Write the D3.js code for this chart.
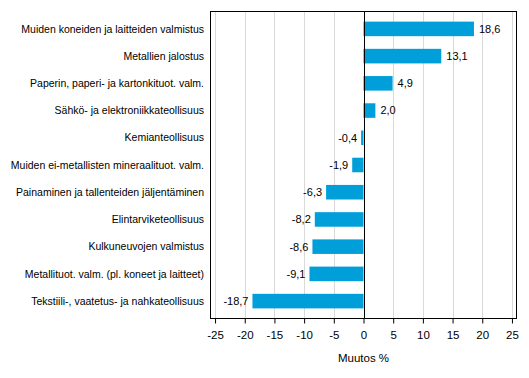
<!DOCTYPE html>
<html><head><meta charset="utf-8">
<script src="https://cdn.jsdelivr.net/npm/d3@7"></script>
<style>
body{margin:0;background:#fff;}
text{font-family:"Liberation Sans",Arial,sans-serif;font-size:11px;fill:#000;}
</style></head>
<body>
<svg id="c" width="529" height="378"></svg>
<script>
const categories = [
  "Muiden koneiden ja laitteiden valmistus",
  "Metallien jalostus",
  "Paperin, paperi- ja kartonkituot. valm.",
  "Sähkö- ja elektroniikkateollisuus",
  "Kemianteollisuus",
  "Muiden ei-metallisten mineraalituot. valm.",
  "Painaminen ja tallenteiden jäljentäminen",
  "Elintarviketeollisuus",
  "Kulkuneuvojen valmistus",
  "Metallituot. valm. (pl. koneet ja laitteet)",
  "Tekstiili-, vaatetus- ja nahkateollisuus"
];
const values = [18.6, 13.1, 4.9, 2.0, -0.4, -1.9, -6.3, -8.2, -8.6, -9.1, -18.7];
const tickValues = [-25, -20, -15, -10, -5, 0, 5, 10, 15, 20, 25];
const axisTitle = "Muutos %";

const svg = d3.select("#c");
const L = 210, R = 517, T = 11, B = 319;
const x = d3.scaleLinear().domain([-25.85, 25.85]).range([L, R]);
const y = d3.scaleBand().domain(categories).range([T, B]).paddingInner(0.465).paddingOuter(0.39);
const fmt = v => v.toFixed(1).replace(".", ",");

// gridlines
svg.append("g").selectAll("line").data(tickValues).join("line")
  .attr("x1", d => Math.round(x(d)) + 0.5).attr("x2", d => Math.round(x(d)) + 0.5)
  .attr("y1", T).attr("y2", B)
  .attr("stroke", "#d9d9d9").attr("stroke-width", 1);

// bars
svg.append("g").selectAll("rect").data(values).join("rect")
  .attr("x", d => x(Math.min(0, d)))
  .attr("width", d => Math.abs(x(d) - x(0)))
  .attr("y", (d, i) => y(categories[i]))
  .attr("height", y.bandwidth())
  .attr("fill", "#009fda");

// zero line
svg.append("line")
  .attr("x1", Math.round(x(0)) + 0.5).attr("x2", Math.round(x(0)) + 0.5)
  .attr("y1", T).attr("y2", B).attr("stroke", "#000");

// frame
svg.append("rect").attr("x", L + 0.5).attr("y", T + 0.5)
  .attr("width", R - L - 1).attr("height", B - T - 1)
  .attr("fill", "none").attr("stroke", "#000");

// value labels
svg.append("g").selectAll("text").data(values).join("text")
  .attr("x", d => d >= 0 ? x(d) + 5 : x(d) - 4)
  .attr("y", (d, i) => y(categories[i]) + y.bandwidth() / 2)
  .attr("dy", "0.35em")
  .attr("text-anchor", d => d >= 0 ? "start" : "end")
  .text(fmt);

// category labels
svg.append("g").selectAll("text").data(categories).join("text")
  .attr("x", 204)
  .attr("y", d => y(d) + y.bandwidth() / 2)
  .attr("dy", "0.35em")
  .attr("text-anchor", "end")
  .style("font-size", "10.5px")
  .text(d => d);

// x axis
const ax = svg.append("g").attr("transform", `translate(0,${B - 0.5})`)
  .call(d3.axisBottom(x).tickValues(tickValues).tickSize(5).tickPadding(7)
    .tickFormat(d => d));
ax.select(".domain").remove();
ax.selectAll("line").attr("stroke", "#000");
ax.selectAll("text").style("font-family", '"Liberation Sans",Arial,sans-serif').style("font-size", "11.5px");

svg.append("text").attr("x", x(0)).attr("y", 362).attr("text-anchor", "middle").style("font-size", "11.5px").text(axisTitle);
</script>
</body></html>
